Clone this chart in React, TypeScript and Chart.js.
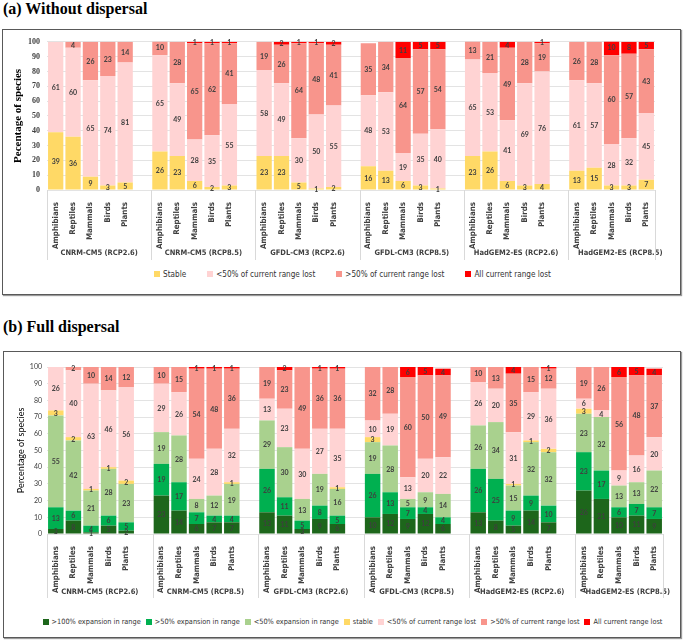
import React, { useEffect, useRef } from "react";
import { Chart, registerables } from "chart.js";

Chart.register(...registerables);

const taxa = ["Amphibians", "Reptiles", "Mammals", "Birds", "Plants"];
const models = [
  "CNRM-CM5 (RCP2.6)",
  "CNRM-CM5 (RCP8.5)",
  "GFDL-CM3 (RCP2.6)",
  "GFDL-CM3 (RCP8.5)",
  "HadGEM2-ES (RCP2.6)",
  "HadGEM2-ES (RCP8.5)",
];
const yTicks = [0, 10, 20, 30, 40, 50, 60, 70, 80, 90, 100];

// (a) Without dispersal — 6 models x 5 taxa
const aStable = [39, 36, 9, 3, 5, 26, 23, 6, 2, 3, 23, 23, 5, 1, 2, 16, 13, 6, 3, 1, 23, 26, 6, 3, 4, 13, 15, 3, 3, 7];
const aLost50 = [61, 60, 65, 74, 81, 65, 49, 28, 35, 55, 58, 49, 30, 50, 55, 48, 53, 19, 35, 40, 65, 53, 41, 69, 76, 61, 57, 28, 32, 45];
const aLostMore = [0, 4, 26, 23, 14, 10, 28, 65, 62, 41, 19, 26, 64, 48, 41, 35, 34, 64, 57, 54, 13, 21, 49, 28, 19, 26, 28, 60, 57, 43];
const aLostAll = [0, 0, 0, 0, 0, 0, 0, 1, 1, 1, 0, 2, 1, 1, 2, 0, 0, 11, 5, 5, 0, 0, 4, 0, 1, 0, 0, 10, 8, 5];

// (b) Full dispersal — 6 models x 5 taxa
const bExp100 = [3, 8, 1, 5, 2, 23, 14, 6, 7, 7, 13, 11, 3, 9, 6, 10, 12, 9, 12, 6, 13, 8, 5, 14, 7, 26, 21, 10, 11, 9];
const bExp50 = [13, 6, 4, 6, 5, 19, 17, 7, 4, 4, 26, 11, 5, 8, 5, 26, 13, 7, 4, 4, 26, 25, 9, 9, 10, 23, 17, 6, 7, 7];
const bExpLess = [55, 42, 21, 28, 23, 19, 28, 8, 12, 19, 29, 30, 13, 19, 16, 19, 28, 5, 9, 14, 26, 34, 15, 32, 32, 23, 32, 13, 13, 22];
const bStable = [3, 2, 1, 1, 2, 0, 0, 0, 0, 1, 0, 0, 0, 0, 1, 3, 0, 0, 0, 0, 0, 0, 1, 1, 2, 3, 0, 0, 0, 0];
const bLost50 = [26, 40, 63, 46, 56, 29, 26, 24, 28, 32, 13, 23, 30, 27, 35, 10, 19, 13, 20, 22, 26, 20, 31, 29, 36, 6, 4, 9, 16, 20];
const bLostMore = [0, 2, 10, 14, 12, 10, 15, 54, 48, 36, 19, 23, 49, 36, 36, 32, 28, 60, 50, 49, 10, 13, 35, 15, 12, 19, 26, 56, 48, 37];
const bLostAll = [0, 0, 0, 0, 0, 0, 0, 1, 1, 1, 0, 2, 0, 1, 1, 0, 0, 6, 5, 4, 0, 0, 4, 0, 1, 0, 0, 6, 5, 4];

const seriesA = [
  { label: "Stable", data: aStable, color: "#FFD966" },
  { label: "<50% of current range lost", data: aLost50, color: "#FFD3D3" },
  { label: ">50% of current range lost", data: aLostMore, color: "#F8958C" },
  { label: "All current range lost", data: aLostAll, color: "#FF0000" },
];
const seriesB = [
  { label: ">100% expansion in range", data: bExp100, color: "#1D661B" },
  { label: ">50% expansion in range", data: bExp50, color: "#00B050" },
  { label: "<50% expansion in range", data: bExpLess, color: "#A9D18E" },
  { label: "stable", data: bStable, color: "#FFD966" },
  { label: "<50% of current range lost", data: bLost50, color: "#FFD3D3" },
  { label: ">50% of current range lost", data: bLostMore, color: "#F8958C" },
  { label: "All current range lost", data: bLostAll, color: "#FF0000" },
];

const SANS = "Lato, 'Liberation Sans', sans-serif";
const SERIF = "'Liberation Serif', 'Times New Roman', serif";

// pick a narrow font if one is installed (closer to the original's Calibri)
const probeCtx = typeof document !== "undefined" ? document.createElement("canvas").getContext("2d") : null;
function hasFont(name: string): boolean {
  if (!probeCtx) return false;
  const s = "abcdefghijklmnopqrstuvwxyz ABCDEFG 0123456789";
  probeCtx.font = "20px monospace";
  const a = probeCtx.measureText(s).width;
  probeCtx.font = `20px '${name}', monospace`;
  const b = probeCtx.measureText(s).width;
  return Math.abs(a - b) > 0.5;
}
const NARROW = hasFont("Liberation Sans Narrow")
  ? "'Liberation Sans Narrow', Lato, sans-serif"
  : hasFont("DejaVu Sans Condensed")
  ? "'DejaVu Sans Condensed', Lato, sans-serif"
  : SANS;
function fitSize(text: string, target: number, weight: string, family: string): number {
  if (!probeCtx) return 9;
  probeCtx.font = `${weight} 100px ${family}`;
  const w = probeCtx.measureText(text).width;
  return Math.round(((100 * target) / w) * 10) / 10;
}
const catSize = fitSize("Amphibians", 47, "bold", NARROW);
const groupSize = fitSize("CNRM-CM5 (RCP2.6)", 77, "bold", NARROW);
const legASize = fitSize("<50% of current range lost", 99, "normal", NARROW);
const legBSize = fitSize(">100% expansion in range", 89, "normal", NARROW);

function toSlots<T>(vals: T[], gap: T): T[] {
  const out: T[] = [];
  for (let g = 0; g < models.length; g++) {
    for (let j = 0; j < taxa.length; j++) out.push(vals[g * taxa.length + j]);
    if (g < models.length - 1) out.push(gap);
  }
  return out;
}

const slotNames = toSlots<string>(
  models.flatMap(() => taxa),
  ""
);

const valueLabels = {
  id: "valueLabels",
  afterDatasetsDraw(chart: any) {
    const ctx = chart.ctx;
    ctx.save();
    ctx.font = `bold 7px ${SANS}`;
    ctx.fillStyle = "#3F3F3F";
    ctx.textAlign = "center";
    ctx.textBaseline = "middle";
    chart.data.datasets.forEach((ds: any, i: number) => {
      const meta = chart.getDatasetMeta(i);
      meta.data.forEach((bar: any, j: number) => {
        const v = ds.data[j];
        if (!v) return;
        const p = bar.getProps(["x", "y", "base"], true);
        ctx.fillText(String(v), p.x, (p.y + p.base) / 2 + 0.5);
      });
    });
    ctx.restore();
  },
};

function groupPlugin(groupY: number, sepBottom: number) {
  return {
    id: "groupLabels",
    afterDraw(chart: any) {
      const ctx = chart.ctx;
      const x = chart.scales.x;
      const slot = x.getPixelForValue(1) - x.getPixelForValue(0);
      const top = chart.chartArea.bottom;
      ctx.save();
      ctx.strokeStyle = "#D9D9D9";
      ctx.lineWidth = 1;
      ctx.font = `bold ${groupSize}px ${NARROW}`;
      ctx.fillStyle = "#404040";
      ctx.textAlign = "center";
      ctx.textBaseline = "middle";
      const drawSep = (px: number) => {
        const xx = Math.round(px) + 0.5;
        ctx.beginPath();
        ctx.moveTo(xx, top);
        ctx.lineTo(xx, sepBottom);
        ctx.stroke();
      };
      models.forEach((m, g) => {
        const left = x.getPixelForValue(g * 6) - slot / 2;
        drawSep(left);
        ctx.fillText(m, left + 3 * slot, groupY);
      });
      drawSep(x.getPixelForValue(slotNames.length - 1) + slot / 2);
      ctx.restore();
    },
  };
}

type PanelProps = {
  series: { label: string; data: number[]; color: string }[];
  width: number;
  height: number;
  padRight: number;
  padTop: number;
  xHeight: number;
  groupY: number;
  sepBottom: number;
  yTitle: string;
  yTitleFont: any;
  yTitlePad: number;
  yTickFont: any;
  yTickPad: number;
};

function Panel(props: PanelProps) {
  const ref = useRef<HTMLCanvasElement>(null);
  useEffect(() => {
    if (!ref.current) return;
    const labels = slotNames.map((_, i) => `s${i}`);
    const chart = new Chart(ref.current, {
      type: "bar",
      data: {
        labels,
        datasets: props.series.map((s) => ({
          label: s.label,
          data: toSlots<number | null>(s.data, null),
          backgroundColor: s.color,
          borderWidth: 0,
          barPercentage: 0.88,
          categoryPercentage: 1,
        })),
      },
      options: {
        responsive: false,
        animation: false,
        layout: { padding: { left: 0, right: props.padRight, top: props.padTop, bottom: 0 } },
        plugins: {
          legend: { display: false },
          tooltip: { enabled: false },
        },
        scales: {
          x: {
            stacked: true,
            offset: true,
            grid: { display: false },
            border: { display: false },
            ticks: {
              autoSkip: false,
              minRotation: 90,
              maxRotation: 90,
              padding: 4,
              font: { family: NARROW, size: catSize, weight: "bold" },
              color: "#404040",
              callback: (_v: any, i: number) => slotNames[i],
            },
            afterFit: (s: any) => {
              s.height = props.xHeight;
            },
          },
          y: {
            stacked: true,
            min: yTicks[0],
            max: yTicks[yTicks.length - 1],
            afterBuildTicks: (s: any) => {
              s.ticks = yTicks.map((v) => ({ value: v }));
            },
            ticks: { font: props.yTickFont, color: "#404040", padding: props.yTickPad },
            grid: { color: "#E3E3E3", drawTicks: false },
            border: { display: false },
            title: {
              display: true,
              text: props.yTitle,
              font: props.yTitleFont,
              color: "#000",
              padding: { top: props.yTitlePad, bottom: 0 },
            },
            afterFit: (s: any) => {
              s.width = 44;
            },
          },
        },
      } as any,
      plugins: [valueLabels, groupPlugin(props.groupY, props.sepBottom)],
    });
    return () => chart.destroy();
  }, []);
  return <canvas ref={ref} width={props.width} height={props.height} style={{ display: "block" }} />;
}

function Legend({
  series,
  gap,
  top,
  left,
  size,
}: {
  series: { label: string; color: string }[];
  gap: number;
  top: number;
  left: number;
  size: number;
}) {
  return (
    <div
      style={{
        position: "absolute",
        left,
        top,
        width: 677,
        display: "flex",
        justifyContent: "center",
        alignItems: "center",
        gap,
        fontFamily: NARROW,
        fontSize: size,
        color: "#333",
        lineHeight: "12px",
        whiteSpace: "nowrap",
      }}
    >
      {series.map((s) => (
        <div key={s.label} style={{ display: "flex", alignItems: "center" }}>
          <span style={{ display: "inline-block", width: 6, height: 6, background: s.color, marginRight: 3 }} />
          <span>{s.label}</span>
        </div>
      ))}
    </div>
  );
}

export default function App() {
  const titleStyle: React.CSSProperties = {
    position: "absolute",
    left: 3,
    fontFamily: SERIF,
    fontWeight: "bold",
    fontSize: 16,
    lineHeight: "18px",
    color: "#000",
    whiteSpace: "nowrap",
  };
  const boxStyle: React.CSSProperties = {
    position: "absolute",
    border: "1px solid #595959",
    boxShadow: "1px 1px 1px #9a9a9a",
    boxSizing: "border-box",
  };
  return (
    <div style={{ position: "absolute", left: 0, top: 0, width: 685, height: 642, background: "#fff" }}>
      <div style={{ ...titleStyle, top: 0 }}>(a) Without dispersal</div>
      <div style={{ ...boxStyle, left: 2, top: 29, width: 679, height: 266 }} />
      <div style={{ position: "absolute", left: 3, top: 30 }}>
        <Panel
          series={seriesA}
          width={677}
          height={238}
          padRight={25}
          padTop={9}
          xHeight={78}
          groupY={223}
          sepBottom={230}
          yTitle="Pecentage of species"
          yTitleFont={{ family: SERIF, size: 11, weight: "bold" }}
          yTitlePad={9}
          yTickFont={{ family: SERIF, size: 8, weight: "bold" }}
          yTickPad={7}
        />
      </div>
      <Legend series={seriesA} gap={21} top={268} left={14} size={legASize} />

      <div style={{ ...titleStyle, top: 318 }}>(b) Full dispersal</div>
      <div style={{ ...boxStyle, left: 3, top: 351, width: 678, height: 287 }} />
      <div style={{ position: "absolute", left: 3, top: 352 }}>
        <Panel
          series={seriesB}
          width={677}
          height={256}
          padRight={17}
          padTop={15}
          xHeight={74}
          groupY={240}
          sepBottom={246}
          yTitle="Percentage of species"
          yTitleFont={{ family: SANS, size: 9 }}
          yTitlePad={13}
          yTickFont={{ family: SANS, size: 7 }}
          yTickPad={5}
        />
      </div>
      <Legend series={seriesB} gap={5} top={616} left={14} size={legBSize} />
    </div>
  );
}
